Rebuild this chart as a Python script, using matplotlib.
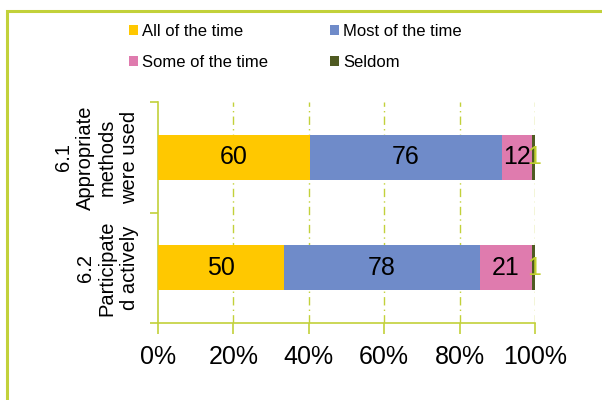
import matplotlib
matplotlib.use("Agg")
import matplotlib.pyplot as plt
import numpy as np
from matplotlib.patches import Rectangle

plt.rcParams['font.family'] = ['Liberation Sans', 'DejaVu Sans']

categories = ["6.1\nAppropriate\nmethods\nwere used", "6.2\nParticipate\nd actively"]
series_names = ["All of the time", "Most of the time", "Some of the time", "Seldom"]
all_time = [60, 50]
most_time = [76, 78]
some_time = [12, 21]
seldom = [1, 1]
colors = ["#FFC800", "#6F8BC9", "#DF7BAE", "#4F5A22"]
label_colors = ["black", "black", "black", "#C0D030"]
xtick_vals = [0, 20, 40, 60, 80, 100]
xtick_labels = ["0%", "20%", "40%", "60%", "80%", "100%"]

green = "#C2D13A"

fig = plt.figure(figsize=(6.02, 4.0), dpi=100)
# outer frame
fig.patches.append(Rectangle((7/602, -0.1), 1.2, 1 - 11/400 + 0.1, transform=fig.transFigure,
                             fill=False, edgecolor=green, linewidth=2.2, zorder=0))

ax = fig.add_axes([158/602, 1 - 323/400, (535 - 158)/602, (323 - 102)/400])

data = np.array([all_time, most_time, some_time, seldom], dtype=float)
totals = data.sum(axis=0)
pct = data / totals * 100
y = np.arange(len(categories))
left = np.zeros(len(categories))
handles = []
for i, name in enumerate(series_names):
    bars = ax.barh(y, pct[i], left=left, height=0.41, color=colors[i], label=name, zorder=3)
    handles.append(bars)
    for j in range(len(categories)):
        ax.text(left[j] + pct[i][j] / 2, y[j], f"{int(data[i][j])}", ha='center', va='center',
                fontsize=18, color=label_colors[i], zorder=5)
    left += pct[i]

ax.set_xlim(0, 100)
ax.set_ylim(1.5, -0.5)
ax.set_xticks(xtick_vals)
ax.set_xticklabels(xtick_labels, fontsize=18)
ax.set_yticks([-0.5, 0.5, 1.5])
ax.set_yticklabels([])
ax.set_yticks(y, minor=True)
ax.set_yticklabels(categories, minor=True, rotation=90, fontsize=14.5, va='center',
                   ha='right', multialignment='center', linespacing=1.2)
ax.tick_params(axis='y', which='minor', length=0, pad=14)
ax.tick_params(axis='y', which='major', length=6, color=green, width=1.2)
ax.tick_params(axis='x', length=8, color=green, width=1.2, pad=8, direction='out')

for s in ['top', 'right']:
    ax.spines[s].set_visible(False)
for s in ['left', 'bottom']:
    ax.spines[s].set_color(green)
    ax.spines[s].set_linewidth(1.2)

for xv in xtick_vals[1:]:
    ax.axvline(xv, color=green, linewidth=1.0, linestyle=(0, (6, 3, 1, 3)), zorder=1)

order = [0, 2, 1, 3]
fig.legend([handles[k] for k in order], [series_names[k] for k in order], ncol=2,
           loc='upper left', bbox_to_anchor=(129/602, 1 - 24/400), frameon=False,
           fontsize=12, handlelength=0.55, handleheight=0.55, handletextpad=0.25,
           columnspacing=3.7, labelspacing=0.95, borderpad=0, borderaxespad=0)

fig.savefig("out.png", dpi=100)
